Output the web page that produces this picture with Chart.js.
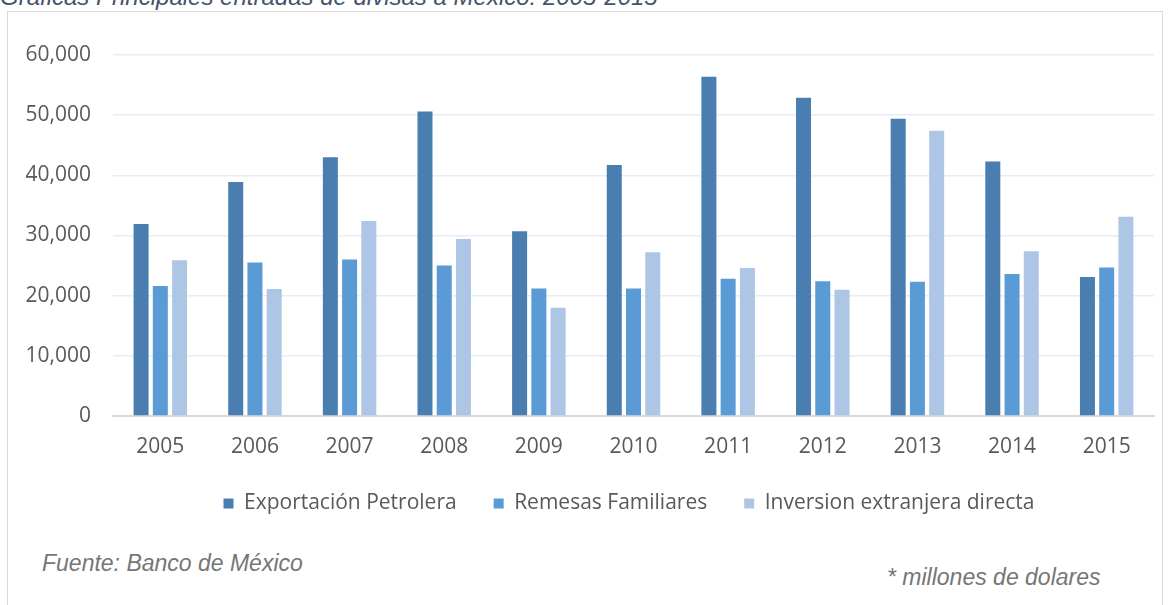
<!DOCTYPE html>
<html lang="es">
<head>
    <meta charset="UTF-8">
    <title>Principales entradas de divisas a México</title>
    <script src="https://cdn.jsdelivr.net/npm/chart.js"></script>
    <style>
        body { margin: 0; background: #fff; width: 1170px; height: 605px; overflow: hidden; position: relative; }
        .frame { position: absolute; left: 7px; top: 11px; width: 1154px; height: 620px; border: 1px solid #d9d9d9; }
        .note { position: absolute; font-family: "Liberation Sans", Arial, sans-serif; font-style: italic; color: #767676; font-size: 23px; line-height: 23px; white-space: nowrap; }
        .title { color: #44546a; font-size: 24px; line-height: 24px; }
        #wrap { position: absolute; left: 0; top: 0; width: 1170px; height: 524px; }
    </style>
</head>
<body>
    <div class="frame"></div>
    <div class="note title" style="left:0; top:-15px;">Gráficas Principales entradas de divisas a México: 2005-2015</div>
    <div id="wrap"><canvas id="chart"></canvas></div>
    <div class="note" style="left:42px; top:552px;">Fuente: Banco de México</div>
    <div class="note" style="left:887px; top:566px;">* millones de dolares</div>

    <script>
        const years = ["2005", "2006", "2007", "2008", "2009", "2010", "2011", "2012", "2013", "2014", "2015"];
        const exportacionPetrolera = [31900, 38900, 43000, 50600, 30700, 41700, 56400, 52900, 49400, 42300, 23100];
        const remesasFamiliares = [21600, 25500, 26000, 25000, 21200, 21200, 22800, 22400, 22300, 23600, 24700];
        const inversionExtranjera = [25900, 21100, 32400, 29400, 18000, 27200, 24600, 21000, 47400, 27400, 33100];

        const tickFont = { family: "'Open Sans', sans-serif", size: 21 };

        // legend sits centred under the plot area, not the whole canvas
        const shiftLegend = {
            id: "shiftLegend",
            afterLayout(chart) {
                chart.legend.left += 52;
                chart.legend.right += 52;
            }
        };

        new Chart(document.getElementById("chart"), {
            type: "bar",
            data: {
                labels: years,
                datasets: [
                    { label: "Exportación Petrolera", data: exportacionPetrolera, backgroundColor: "#4a7eb1" },
                    { label: "Remesas Familiares", data: remesasFamiliares, backgroundColor: "#5b9bd5" },
                    { label: "Inversion extranjera directa", data: inversionExtranjera, backgroundColor: "#aec6e6" }
                ]
            },
            options: {
                responsive: true,
                maintainAspectRatio: false,
                animation: false,
                layout: { padding: { top: 55, right: 16, left: 0, bottom: 0 } },
                datasets: { bar: { categoryPercentage: 0.61, barPercentage: 0.78 } },
                plugins: {
                    legend: {
                        position: "bottom",
                        labels: {
                            font: { family: "'Open Sans', sans-serif", size: 21 },
                            color: "#595959",
                            boxWidth: 10,
                            boxHeight: 10,
                            padding: 37
                        }
                    },
                    tooltip: { enabled: false }
                },
                scales: {
                    x: {
                        afterFit: (scale) => { scale.height = 40; },
                        grid: { display: false },
                        border: { color: "#d9d9d9", width: 2 },
                        ticks: { font: { family: "'Open Sans', sans-serif", size: 21, lineHeight: 0.9 }, color: "#595959", padding: 14, autoSkip: false, maxRotation: 0 }
                    },
                    y: {
                        min: 0,
                        max: 60000,
                        afterFit: (scale) => { scale.width = 113; },
                        grid: { color: "#e6edf6", lineWidth: 1.5, drawTicks: false },
                        border: { display: false },
                        ticks: {
                            stepSize: 10000,
                            font: tickFont,
                            color: "#595959",
                            padding: 22,
                            callback: (v) => v.toLocaleString("en-US")
                        }
                    }
                }
            },
            plugins: [shiftLegend]
        });
    </script>
</body>
</html>
